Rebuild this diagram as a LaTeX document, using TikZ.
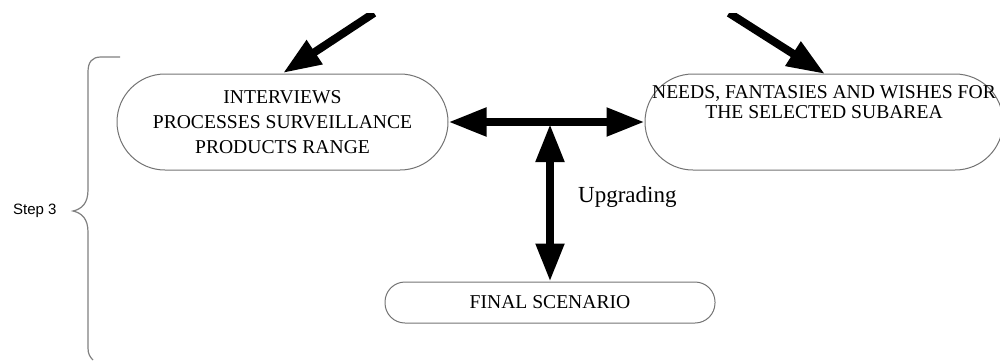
\documentclass[tikz,border=0pt]{standalone}
\usepackage{fontspec}
\setmainfont{Liberation Serif}
\newfontfamily\stepfont{Liberation Sans}
\usetikzlibrary{arrows.meta}
\tikzset{
  box/.style={draw=black!55, line width=1pt, rounded corners=#1, inner sep=0pt, align=center,
              font=\fontsize{19.6}{25}\selectfont},
  bigarrow/.style={line width=8pt, -{Triangle[length=38pt,width=27pt]}},
  dblarrow/.style={line width=8pt, {Triangle[length=38pt,width=27pt]}-{Triangle[length=38pt,width=27pt]}},
  bracestyle/.style={draw=black!50, line width=1.2pt},
}
\begin{document}
\begin{tikzpicture}[x=1pt,y=-1pt]
\useasboundingbox (0,0) rectangle (1000,360);
% nodes
\node[box=48pt, minimum width=331pt, minimum height=96pt] (left) at (282.5,122)
  {INTERVIEWS\\PROCESSES SURVEILLANCE\\PRODUCTS RANGE};
\node[box=48pt, minimum width=358pt, minimum height=96pt,
  label={[yshift=20pt, align=center, font=\fontsize{19.6}{20}\selectfont]center:NEEDS, FANTASIES AND WISHES FOR\\THE SELECTED SUBAREA}] (right) at (824,122) {};
\node[box=20pt, minimum width=330pt, minimum height=41pt] (final) at (550,302.5) {FINAL SCENARIO};
\node[font=\fontsize{23}{26}\selectfont, anchor=base west, inner sep=0pt] (upg) at (578,202) {Upgrading};
\node[font=\stepfont\fontsize{15}{18}\selectfont, anchor=west, inner sep=0pt] (step) at (13,211) {Step 3};
% free ends of the incoming arrows
\coordinate (inL) at (374,13);
\coordinate (inR) at (729,13);
\coordinate (tL) at (283,73);
\coordinate (tR) at (825,74);
\coordinate (junc) at (550,124);
\begin{scope}
\clip (0,13) rectangle (1000,360);
\draw[bigarrow] (inL) -- (tL);
\draw[bigarrow] (inR) -- (tR);
\end{scope}
\draw[dblarrow] (left.east) -- (right.west);
\draw[dblarrow] (junc) -- (final.north);
% brace
\draw[bracestyle] (120,57) -- (101,57) .. controls (92,57) and (88,62) .. (88,72)
  -- (88,190) .. controls (88,203) and (82,209) .. (73,211)
  .. controls (82,213) and (88,219) .. (88,232)
  -- (88,348) .. controls (88,354) and (90,357) .. (93,360);
\end{tikzpicture}
\end{document}
